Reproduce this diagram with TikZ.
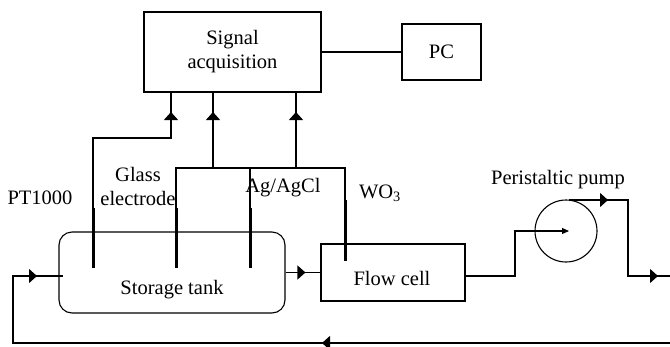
\documentclass[tikz,border=0pt]{standalone}
\usepackage{fontspec}
\setmainfont{Liberation Serif}
\usetikzlibrary{arrows.meta,decorations.markings}
\tikzset{bigtip/.tip={Triangle[width=14pt,length=8pt]}}
\begin{document}
\begin{tikzpicture}[x=1pt,y=-1pt,
  line width=1.1pt,
  every node/.style={font=\fontsize{20.5}{24}\selectfont},
  box/.style={draw, line width=1.1pt, inner sep=0pt, align=center},
  lbl/.style={inner sep=0pt, align=center},
  electrode/.style={line width=3pt},
  markone/.style={decoration={markings, mark=at position #1 with {\arrow{bigtip}}}, postaction={decorate}},
  marktwo/.style 2 args={decoration={markings, mark=at position #1 with {\arrow{bigtip}}, mark=at position #2 with {\arrow{bigtip}}}, postaction={decorate}}
]
\useasboundingbox (0,0) rectangle (670,346);

% boxes
\node[box, minimum width=177pt, minimum height=80pt] (sig) at (232.5,52) {Signal\\acquisition};
\node[box, minimum width=79pt, minimum height=56pt] (pc) at (441.5,52) {PC};
\node[box, rounded corners=13pt, minimum width=226pt, minimum height=81pt] (tank) at (172,272.5) {};
\node[lbl] (tanklbl) at (172,290) {Storage tank};
\node[box, minimum width=144pt, minimum height=57pt] (flow) at (393,272.5) {};
\node[lbl] (flowlbl) at (392,278) {Flow cell};
\node[draw, circle, minimum size=62pt, inner sep=0pt] (pump) at (566,231) {};

% labels
\node[lbl] (ptl) at (40,198) {PT1000};
\node[lbl] (gl) at (138,186) {Glass\\electrode};
\node[lbl] (agl) at (283,188) {Ag/AgCl};
\node[lbl] (wol) at (380,193) {WO\textsubscript{3}};
\node[lbl] (ppl) at (558,180) {Peristaltic pump};

% coordinates
\coordinate (s1) at (171,92);
\coordinate (s2) at (213,92);
\coordinate (s3) at (296,92);
\coordinate (ptTop) at (93,138);
\coordinate (ptA) at (93,208);
\coordinate (ptB) at (93,268);
\coordinate (gT) at (176,168);
\coordinate (gA) at (176,208);
\coordinate (gB) at (176,268);
\coordinate (aT) at (250,168);
\coordinate (aA) at (250,208);
\coordinate (aB) at (250,268);
\coordinate (wT) at (345,168);
\coordinate (wA) at (345,200);
\coordinate (wB) at (345,261);
\coordinate (b2) at (213,168);
\coordinate (b3) at (296,168);

% signal link
\draw (sig.east) -- (pc.west);

% electrodes
\draw[electrode] (ptA) -- (ptB);
\draw[electrode] (gA) -- (gB);
\draw[electrode] (aA) -- (aB);
\draw[electrode] (wA) -- (wB);

% wires
\draw[markone=-20pt] (ptA) -- (ptTop) -| (s1);
\draw (gA) -- (gT) -- (wT) -- (wA);
\draw (aT) -- (aA);
\draw[markone=-20pt] (b2) -- (s2);
\draw[markone=-20pt] (b3) -- (s3);

% flow path
\coordinate (r1) at (670,343);
\coordinate (r2) at (13,343);
\coordinate (r3) at (13,276);
\coordinate (tin) at (63,276);
\draw[marktwo={348pt}{-26pt}] (r1) -- (r2) -- (r3) -- (tin);
\draw[markone=-15pt] (tank.east) -- (flow.west);
\coordinate (f1) at (465,276);
\coordinate (f2) at (515,276);
\coordinate (f3) at (515,231);
\coordinate (pin) at (569,231);
\draw[-{Triangle[width=6pt,length=7pt]}] (f1) -- (f2) -- (f3) -- (pin);
\coordinate (p1) at (569,200);
\coordinate (p2) at (628,200);
\coordinate (p3) at (628,276);
\coordinate (p4) at (670,276);
\draw[marktwo={39pt}{-12pt}] (p1) -- (p2) -- (p3) -- (p4);
\end{tikzpicture}
\end{document}
